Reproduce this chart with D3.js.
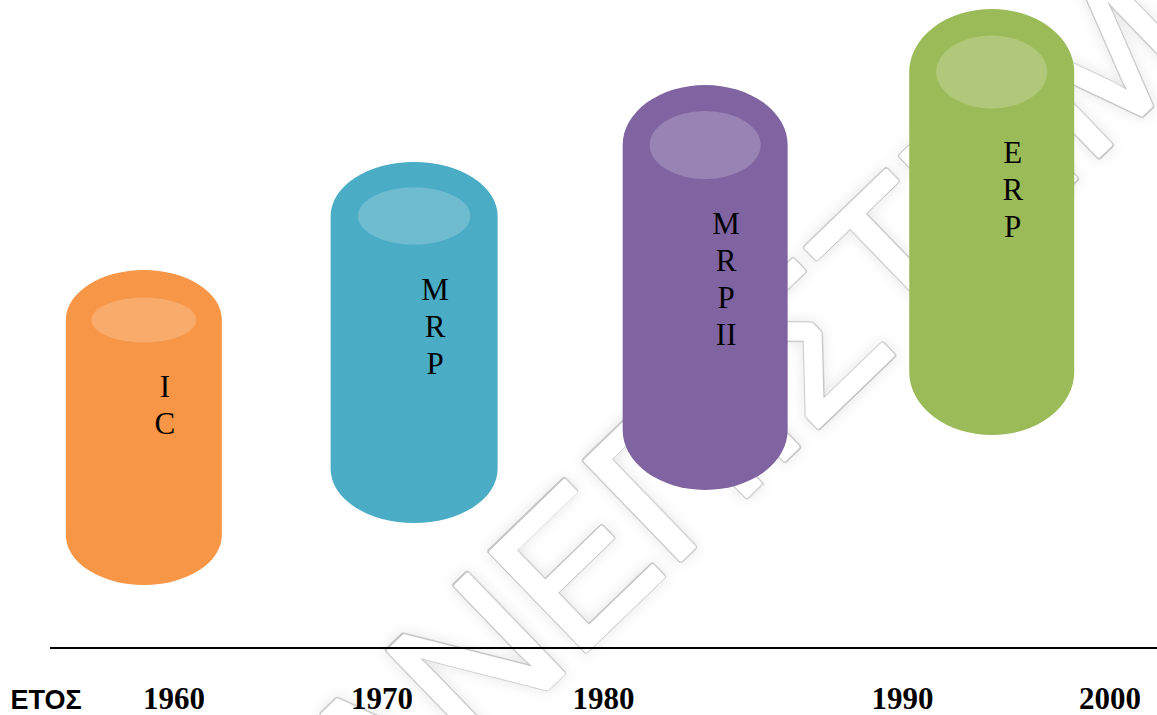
<!DOCTYPE html>
<html>
<head>
<meta charset="utf-8">
<script src="https://cdn.jsdelivr.net/npm/d3@7"></script>
<style>
  html, body { margin: 0; padding: 0; background: #ffffff; }
  svg { display: block; }
</style>
</head>
<body>
<div id="chart"></div>
<script>
// ---------------- data ----------------
const categories   = ["IC", "MRP", "MRP II", "ERP"];
const labelLines   = [["I", "C"], ["M", "R", "P"], ["M", "R", "P", "II"], ["E", "R", "P"]];
const centerYears  = [1958.55, 1971.45, 1983.4, 1994.3];   // horizontal position of each cylinder (years)
const topValues    = [378, 486, 563, 639];                  // cylinder top level
const bottomValues = [63, 125, 158, 213];                   // cylinder bottom level
const tickYears    = [1960, 1970, 1980, 1990, 2000];
const tickLabels   = ["1960", "1970", "1980", "1990", "2000"];
const axisTitle    = "ΕΤΟΣ";

// ---------------- layout / style ----------------
const W = 1157, H = 715;
const colors   = ["#F79646", "#4BACC6", "#8064A2", "#9BBB59"];
const radiusX  = [78, 83.5, 82.5, 82.5];
const capRy    = [50, 54, 60, 63];
const hlRy     = [22.5, 28.7, 34, 36.5];
const labelTop = [127, 138, 149, 154];
const lineStep = 37;

const svg = d3.select("#chart").append("svg")
  .attr("width", W).attr("height", H);

const x = d3.scaleLinear().domain(tickYears).range([174, 382, 603.5, 902.5, 1110]);
const y = d3.scaleLinear().domain([0, 640]).range([648, 8]);

// ---------------- watermark ----------------
const defs = svg.append("defs");
const f = defs.append("filter").attr("id", "glow").attr("x", "-20%").attr("y", "-20%").attr("width", "140%").attr("height", "140%");
f.append("feGaussianBlur").attr("in", "SourceAlpha").attr("stdDeviation", 7).attr("result", "b");
f.append("feFlood").attr("flood-color", "#000").attr("flood-opacity", 0.10);
f.append("feComposite").attr("in2", "b").attr("operator", "in").attr("result", "s");
const fm = f.append("feMerge");
fm.append("feMergeNode").attr("in", "s");
fm.append("feMergeNode").attr("in", "SourceGraphic");

const wm = svg.append("g")
  .attr("transform", "translate(767,380) rotate(-44)")
  .attr("font-family", "Liberation Sans, Arial, sans-serif")
  .attr("font-size", 200)
  .attr("text-anchor", "middle")
  .attr("dominant-baseline", "central");

wm.append("text")
  .attr("textLength", 1500).attr("lengthAdjust", "spacingAndGlyphs")
  .attr("fill", "#ffffff").attr("stroke", "#c4c4c4").attr("stroke-width", 6)
  .attr("stroke-linejoin", "round")
  .attr("filter", "url(#glow)")
  .text("ΠΑΝΕΠΙΣΤΗΜΙΟ");
wm.append("text")
  .attr("textLength", 1500).attr("lengthAdjust", "spacingAndGlyphs")
  .attr("fill", "#ffffff").attr("stroke", "#ffffff").attr("stroke-width", 3.6)
  .attr("stroke-linejoin", "round")
  .text("ΠΑΝΕΠΙΣΤΗΜΙΟ");

// ---------------- axis line ----------------
svg.append("line")
  .attr("x1", 50).attr("x2", W)
  .attr("y1", y(0)).attr("y2", y(0))
  .attr("stroke", "#000").attr("stroke-width", 2);

// ---------------- cylinders ----------------
const data = categories.map((c, i) => ({
  name: c, lines: labelLines[i], year: centerYears[i], top: topValues[i], bottom: bottomValues[i],
  color: colors[i], rx: radiusX[i], ry: capRy[i], hry: hlRy[i], lt: labelTop[i]
}));

const g = svg.append("g").selectAll("g").data(data).join("g");

g.append("path")
  .attr("fill", d => d.color)
  .attr("d", d => {
    const cx = x(d.year), rx = d.rx, ry = d.ry;
    const tc = y(d.top) + ry, bc = y(d.bottom) - ry;
    return `M${cx - rx},${tc} L${cx - rx},${bc} A${rx},${ry} 0 0 0 ${cx + rx},${bc}` +
           ` L${cx + rx},${tc} A${rx},${ry} 0 0 0 ${cx - rx},${tc} Z`;
  });

g.append("ellipse")
  .attr("cx", d => x(d.year))
  .attr("cy", d => y(d.top) + d.ry)
  .attr("rx", d => d.rx * 0.673)
  .attr("ry", d => d.hry)
  .attr("fill", "#ffffff")
  .attr("fill-opacity", 0.2);

g.each(function(d) {
  const t = d3.select(this).append("text")
    .attr("font-family", "'Liberation Serif', 'Times New Roman', serif")
    .attr("font-size", 31)
    .attr("fill", "#000")
    .attr("text-anchor", "middle");
  d.lines.forEach((s, k) => {
    t.append("tspan")
      .attr("x", x(d.year) + 21)
      .attr("y", y(d.top) + d.lt + k * lineStep)
      .text(s);
  });
});

// ---------------- tick labels ----------------
svg.append("g").selectAll("text").data(tickYears).join("text")
  .attr("x", d => x(d))
  .attr("y", 709)
  .attr("text-anchor", "middle")
  .attr("font-family", "'Liberation Serif', 'Times New Roman', serif")
  .attr("font-weight", "bold")
  .attr("font-size", 31)
  .attr("fill", "#000")
  .text((d, i) => tickLabels[i]);

svg.append("text")
  .attr("x", 46).attr("y", 709)
  .attr("text-anchor", "middle")
  .attr("font-family", "'Liberation Sans', Arial, sans-serif")
  .attr("font-weight", "bold")
  .attr("font-size", 27)
  .attr("fill", "#000")
  .text(axisTitle);
</script>
</body>
</html>
